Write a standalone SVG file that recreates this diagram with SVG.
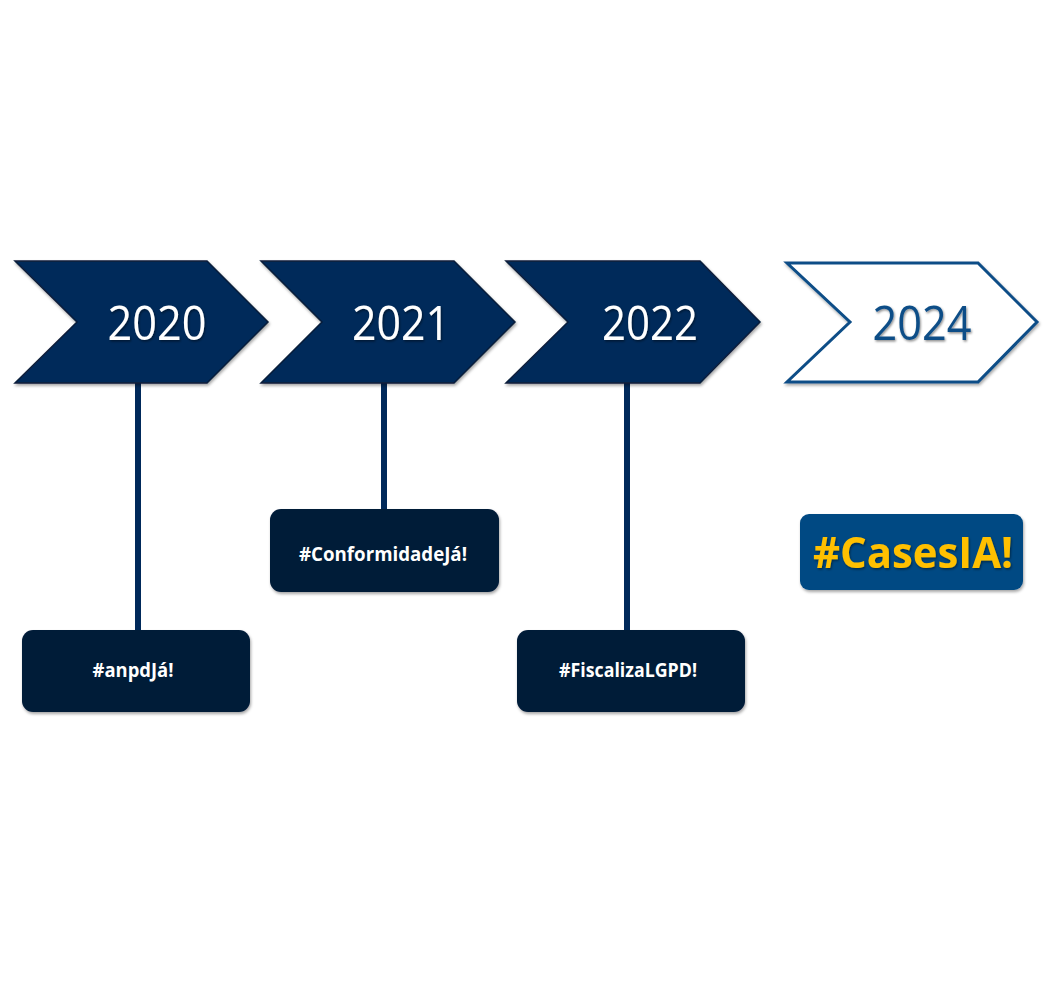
<svg xmlns="http://www.w3.org/2000/svg" width="1063" height="1000" viewBox="0 0 1063 1000">
<defs>
<style>
.chev{fill:#00295A;stroke:#0B1E3A;stroke-width:1.5;}
.chev-out{fill:#FFFFFF;stroke:#0E4E87;stroke-width:3;}
.year{font-family:"Open Sans","Liberation Sans",sans-serif;font-size:47px;fill:#FFFFFF;text-anchor:middle;}
.year-out{font-family:"Open Sans","Liberation Sans",sans-serif;font-size:47px;fill:#0E4E87;text-anchor:middle;}
.box{fill:#001B38;}
.tag{font-family:"Open Sans","Liberation Sans",sans-serif;font-size:19px;font-weight:bold;fill:#FFFFFF;text-anchor:middle;}
.conn{stroke:#00295A;stroke-width:6;fill:none;}
.cases{fill:#004A83;}
.cases-t{font-family:"Open Sans","Liberation Sans",sans-serif;font-size:43px;font-weight:bold;fill:#FFC000;text-anchor:middle;}
</style>
<filter id="sh" x="-10%" y="-10%" width="120%" height="130%">
<feDropShadow dx="1" dy="2" stdDeviation="1.5" flood-color="#000" flood-opacity="0.35"/>
</filter>
<filter id="tsh" x="-10%" y="-20%" width="120%" height="150%">
<feDropShadow dx="1" dy="1.5" stdDeviation="1" flood-color="#000" flood-opacity="0.45"/>
</filter>
</defs>
<rect width="1063" height="1000" fill="#FFFFFF"/>
<g id="connectors">
<line class="conn" x1="138" y1="383" x2="138" y2="632"/>
<line class="conn" x1="384" y1="383" x2="384" y2="511"/>
<line class="conn" x1="627" y1="383" x2="627" y2="632"/>
</g>
<g id="chevron-2020">
<polygon class="chev" filter="url(#sh)" points="15,261 207,261 268,322 207,383 15,383 77,322"/>
<text class="year" filter="url(#tsh)" x="157" y="340" textLength="99" lengthAdjust="spacingAndGlyphs">2020</text>
</g>
<g id="chevron-2021">
<polygon class="chev" filter="url(#sh)" points="261,261 454,261 515,322 454,383 261,383 322,322"/>
<text class="year" filter="url(#tsh)" x="401" y="340" textLength="98" lengthAdjust="spacingAndGlyphs">2021</text>
</g>
<g id="chevron-2022">
<polygon class="chev" filter="url(#sh)" points="506,261 700,261 760,322 700,383 506,383 568,322"/>
<text class="year" filter="url(#tsh)" x="650" y="340" textLength="96" lengthAdjust="spacingAndGlyphs">2022</text>
</g>
<g id="chevron-2024">
<polygon class="chev-out" filter="url(#sh)" points="787,263 978,263 1037,322 978,382 787,382 850,322"/>
<text class="year-out" filter="url(#tsh)" x="922" y="340" textLength="99" lengthAdjust="spacingAndGlyphs">2024</text>
</g>
<g id="box-anpdja">
<rect class="box" filter="url(#sh)" x="22" y="630" width="228" height="82" rx="11"/>
<text class="tag" x="133" y="677" textLength="81" lengthAdjust="spacingAndGlyphs">#anpdJá!</text>
</g>
<g id="box-conformidadeja">
<rect class="box" filter="url(#sh)" x="270" y="509" width="229" height="83" rx="11"/>
<text class="tag" x="383" y="561" textLength="168" lengthAdjust="spacingAndGlyphs">#ConformidadeJá!</text>
</g>
<g id="box-fiscalizalgpd">
<rect class="box" filter="url(#sh)" x="517" y="630" width="228" height="82" rx="11"/>
<text class="tag" x="628" y="677" textLength="138" lengthAdjust="spacingAndGlyphs">#FiscalizaLGPD!</text>
</g>
<g id="box-casesia">
<rect class="cases" filter="url(#sh)" x="800" y="514" width="223" height="76" rx="9"/>
<text class="cases-t" filter="url(#tsh)" x="913" y="568" textLength="200" lengthAdjust="spacingAndGlyphs">#CasesIA!</text>
</g>
</svg>
